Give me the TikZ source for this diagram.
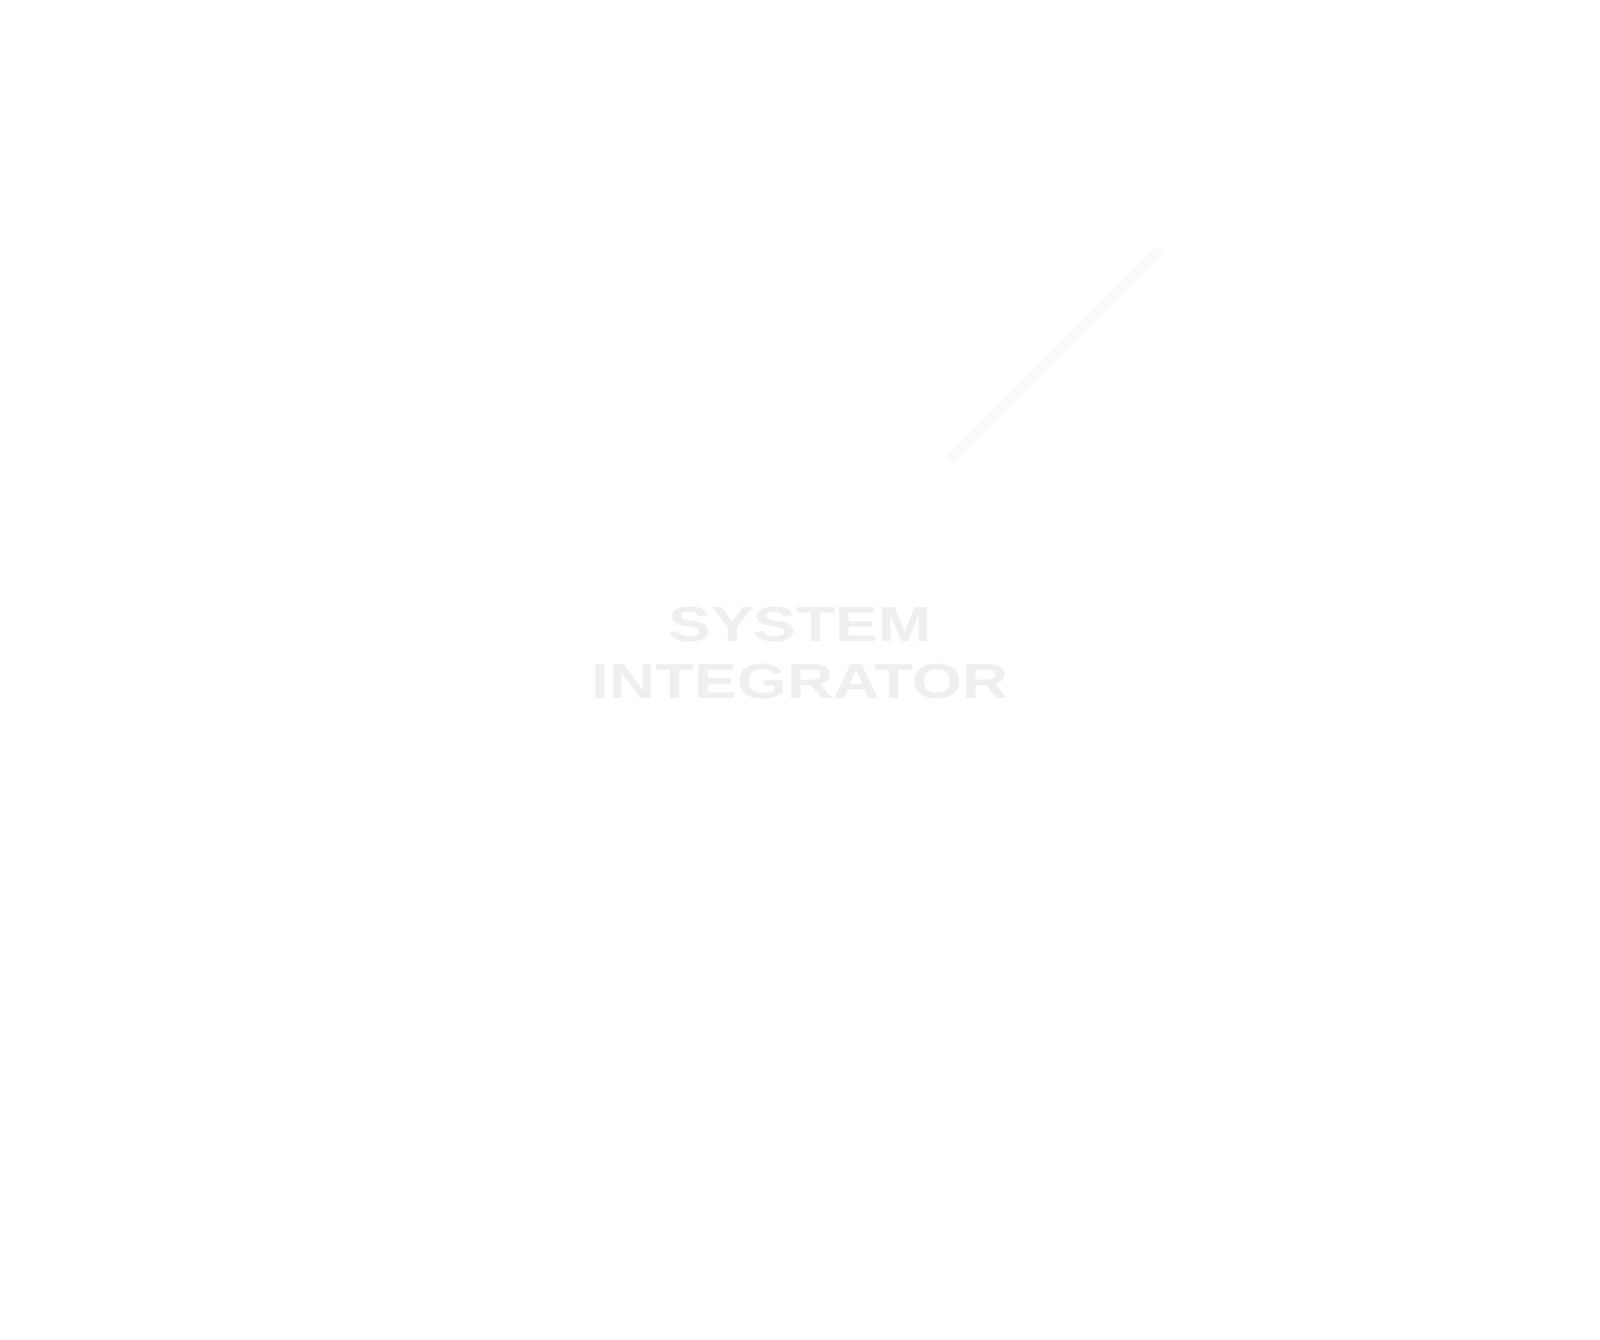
\documentclass[tikz,border=0pt]{standalone}
\usepackage{fontspec}
\setmainfont{Liberation Sans}
\usetikzlibrary{positioning}
\definecolor{ghost}{HTML}{EFEFEF}
\definecolor{streak}{HTML}{FAFAFA}
\tikzset{word/.style={text=ghost,font=\bfseries\fontsize{14}{14}\selectfont,xscale=1.3,inner sep=0pt}}
\begin{document}
\begin{tikzpicture}
\useasboundingbox (0,0) rectangle (16,13.39);
\fill[white] (0,0) rectangle (16,13.39);
% faint streak
\coordinate (s1) at (11.6,10.89);
\coordinate (s2) at (9.5,8.79);
\draw[streak,line width=3pt] (s1) -- (s2);
% title
\node[word] (sys) at (8,7.14) {SYSTEM};
\node[word,below=0.2 of sys] (int) {INTEGRATOR};
\end{tikzpicture}
\end{document}
